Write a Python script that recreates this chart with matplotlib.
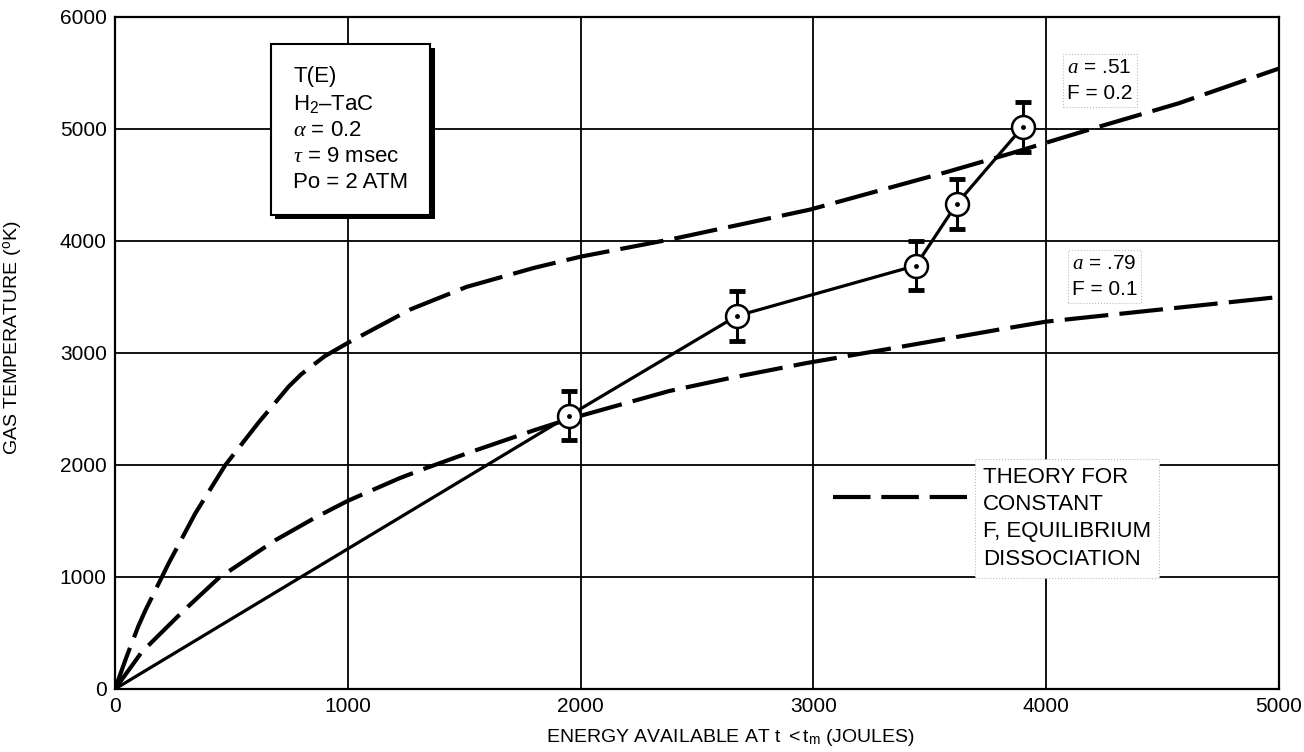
import numpy as np
import matplotlib.pyplot as plt
from matplotlib.lines import Line2D
import matplotlib.patheffects as pe

plt.rcParams['font.family'] = ['Liberation Sans', 'DejaVu Sans']
plt.rcParams['mathtext.fontset'] = 'custom'
plt.rcParams['mathtext.rm'] = 'Liberation Sans'
plt.rcParams['mathtext.sf'] = 'Liberation Sans'
plt.rcParams['mathtext.it'] = 'Liberation Serif:italic'

# measured points, T(E) with error bars
energy = [1950, 2670, 3440, 3615, 3900]
temp = [2440, 3330, 3780, 4330, 5020]
temp_err = [220, 220, 220, 225, 225]

# theory, a = .51, F = 0.2
e_hi = [0, 50, 100, 130, 230, 344, 474, 617, 746, 800, 900, 1000, 1270, 1510,
        1800, 2000, 2400, 2985, 3580, 3845, 4210, 4570, 5000]
t_hi = [0, 290, 560, 700, 1120, 1565, 2000, 2380, 2700, 2810, 2970, 3090, 3390,
        3590, 3760, 3860, 4020, 4280, 4620, 4780, 5010, 5230, 5540]

# theory, a = .79, F = 0.1
e_lo = [0, 115, 290, 445, 690, 860, 1000, 1220, 1320, 1520, 1800, 1950, 2070,
        2380, 2650, 2970, 3250, 3800, 4000, 4500, 5000]
t_lo = [0, 330, 690, 990, 1330, 1530, 1680, 1880, 1960, 2110, 2310, 2410, 2480,
        2660, 2780, 2910, 3010, 3210, 3280, 3390, 3500]

xticks = [0, 1000, 2000, 3000, 4000, 5000]
yticks = [0, 1000, 2000, 3000, 4000, 5000, 6000]

box_lines = ["T(E)", "H$_{\\rm 2}$\u2013TaC", "$\\alpha$ = 0.2", "$\\tau$ = 9 msec", "Po = 2 ATM"]
theory_label = ["THEORY FOR", "CONSTANT", "F, EQUILIBRIUM", "DISSOCIATION"]

dash = (10.5, 2.7)

fig = plt.figure(figsize=(13.04, 7.52), dpi=100)
ax = fig.add_axes([0.0882, 0.0838, 0.8926, 0.8936])

ax.set_xlim(0, 5000)
ax.set_ylim(0, 6000)
ax.set_xticks(xticks)
ax.set_yticks(yticks)
ax.tick_params(length=0, labelsize=15, pad=6)
ax.grid(True, color='k', lw=1.3, zorder=1)
ax.set_axisbelow(True)
for s in ax.spines.values():
    s.set_linewidth(1.6)

# theory curves
ax.plot(e_hi, t_hi, color='k', lw=3, dashes=dash, zorder=3)
ax.plot(e_lo, t_lo, color='k', lw=3, dashes=dash, zorder=3)

# experiment: solid line from origin through the points
ax.plot([0] + energy, [0] + temp, color='k', lw=2.3, zorder=4)
ax.errorbar(energy, temp, yerr=temp_err, fmt='none', ecolor='k', elinewidth=2.2,
            capsize=6, capthick=3.5, zorder=4)
ax.plot(energy, temp, 'o', ms=16.5, mfc='white', mec='k', mew=1.8, zorder=5)
ax.plot(energy, temp, 'o', ms=2.5, color='k', zorder=6)

# parameter box with shadow
t = ax.text(765, 5560, "\n".join(box_lines), fontsize=16, ha='left', va='top',
            linespacing=1.32, zorder=7,
            bbox=dict(boxstyle='square,pad=1.0', fc='white', ec='k', lw=1.5))
t.get_bbox_patch().set_path_effects([
    pe.SimplePatchShadow(offset=(3, -3), shadow_rgbFace='k', alpha=1),
    pe.Normal()])

# curve labels
ax.text(4090, 5435, "$a$ = .51\nF = 0.2", fontsize=15, ha='left', va='center',
        linespacing=1.45, zorder=7,
        bbox=dict(boxstyle='square,pad=0.2', fc='white', ec='#bbbbbb', ls=':', lw=0.8))
ax.text(4110, 3683, "$a$ = .79\nF = 0.1", fontsize=15, ha='left', va='center',
        linespacing=1.45, zorder=7,
        bbox=dict(boxstyle='square,pad=0.2', fc='white', ec='#bbbbbb', ls=':', lw=0.8))

# legend: dashed key, boxed text beside it
key = Line2D([], [], color='k', lw=3, dashes=(9, 2.6))
ax.legend([key], [''], loc='center left', bbox_to_anchor=(0.617, 0.284),
          frameon=False, handlelength=9.65, borderpad=0, borderaxespad=0,
          handletextpad=0, fontsize=10)
ax.text(3729, 1985, "\n".join(theory_label), fontsize=16, ha='left', va='top',
        linespacing=1.4, zorder=7,
        bbox=dict(boxstyle='square,pad=0.35', fc='white', ec='#bbbbbb', ls=':', lw=0.8))

ax.set_xlabel("ENERGY AVAILABLE AT t $<$t$_{\\rm m}$ (JOULES)", fontsize=14)
ax.set_ylabel("GAS TEMPERATURE ($^{\\rm o}$K)", fontsize=14)
ax.xaxis.set_label_coords(0.529, -0.056)
ax.yaxis.set_label_coords(-0.077, 0.522)

fig.savefig("out.png", dpi=100)
